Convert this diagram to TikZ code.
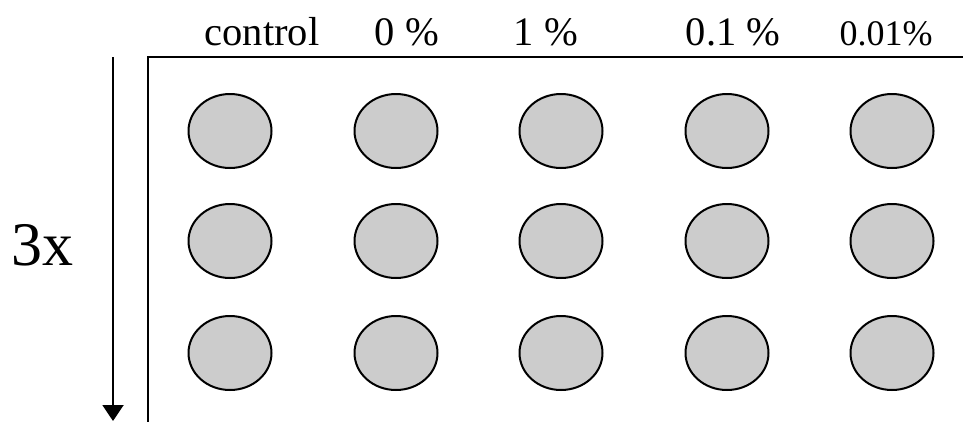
\documentclass[tikz,border=0pt]{standalone}
\usepackage{fontspec}
\setmainfont{Liberation Serif}
\usetikzlibrary{shapes.geometric,arrows.meta}
\tikzset{
  well/.style={ellipse, draw=black, line width=2pt, fill=black!20,
    minimum width=83pt, minimum height=74pt, inner sep=0pt},
  head/.style={anchor=base, inner sep=0pt, font=\fontsize{40.5}{44}\selectfont},
  rim/.style={line width=2pt, line cap=rect},
}
\begin{document}
\begin{tikzpicture}[x=1pt,y=-1pt]
  \useasboundingbox (0,0) rectangle (963,421);
  % plate edges
  \coordinate (pb) at (148,421);
  \coordinate (pc) at (148,57);
  \coordinate (pr) at (963,57);
  \draw[rim] (pb) -- (pc) -- (pr);
  % replicate arrow
  \coordinate (as) at (113,57);
  \coordinate (ae) at (113,421);
  \draw[line width=2pt, -{Triangle[length=16pt,width=21pt]}] (as) -- (ae);
  \node[anchor=base, inner sep=0pt, font=\fontsize{62}{66}\selectfont] (rep) at (42,265) {3x};
  % column headings
  \node[head] (h1) at (262,45) {control};
  \node[head] (h2) at (407,45) {0 \%};
  \node[head] (h3) at (546,45) {1 \%};
  \node[head] (h4) at (733,45) {0.1 \%};
  \node[head, font=\fontsize{36}{40}\selectfont] (h5) at (886,45) {0.01\%};
  % wells
  \foreach \c/\x in {1/230,2/396,3/561,4/727,5/892}{
    \foreach \r/\y in {1/131,2/241,3/353}{
      \node[well] (w\r\c) at (\x,\y) {};
    }
  }
\end{tikzpicture}
\end{document}
